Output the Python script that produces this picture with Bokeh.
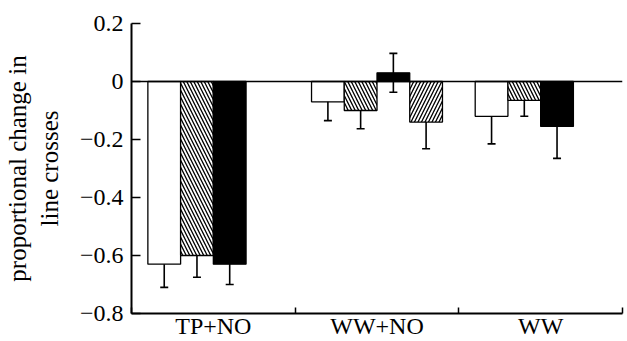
from bokeh.plotting import figure
from bokeh.models import (Range1d, FixedTicker, CustomJSTickFormatter, Whisker,
                          TeeHead, ColumnDataSource, Span)
from bokeh.embed import file_html
from bokeh.resources import INLINE

# ---- data ----
categories = ["TP+NO", "WW+NO", "WW"]

open_cats = ["TP+NO", "WW+NO", "WW"]
open_vals = [-0.63, -0.07, -0.12]
open_err = [0.08, 0.065, 0.095]

hatch_cats = ["TP+NO", "WW+NO", "WW"]
hatch_vals = [-0.60, -0.10, -0.065]
hatch_err = [0.075, 0.063, 0.055]

black_cats = ["TP+NO", "WW+NO", "WW"]
black_vals = [-0.63, 0.03, -0.155]
black_err = [0.07, 0.067, 0.11]

hatch2_cats = ["WW+NO"]
hatch2_vals = [-0.14]
hatch2_err = [0.092]

y_ticks = [-0.8, -0.6, -0.4, -0.2, 0, 0.2]
y_label = "proportional change in\nline crosses"

# ---- styling ----
FONT = "Liberation Serif"
slot_offsets = [-0.3, -0.1, 0.1, 0.3]
bar_w = 0.2

p = figure(width=627, height=341, output_backend="svg", toolbar_location=None,
           x_range=Range1d(0, 3), y_range=Range1d(-0.8, 0.2),
           min_border_left=128, min_border_right=5, min_border_top=23,
           min_border_bottom=27)
p.outline_line_color = None
p.xgrid.visible = False
p.ygrid.visible = False

series = [
    (open_cats, open_vals, open_err, 0, "white", None),
    (hatch_cats, hatch_vals, hatch_err, 1, "white", "\\"),
    (black_cats, black_vals, black_err, 2, "black", None),
    (hatch2_cats, hatch2_vals, hatch2_err, 3, "white", "/"),
]

for cats, vals, errs, slot, fill, hatch in series:
    xs = [categories.index(c) + 0.5 + slot_offsets[slot] for c in cats]
    src = ColumnDataSource(dict(x=xs, top=vals,
                                upper=[v + e for v, e in zip(vals, errs)],
                                lower=[v - e for v, e in zip(vals, errs)]))
    kw = {}
    if hatch:
        kw = dict(hatch_pattern=hatch, hatch_color="black", hatch_scale=7,
                  hatch_weight=1.3)
    p.vbar(x="x", top="top", bottom=0, width=bar_w, source=src,
           fill_color=fill, line_color="black", line_width=1.3, **kw)
    wk = Whisker(base="x", upper="upper", lower="lower", source=src,
                 dimension="height", line_color="black", line_width=1.6,
                 upper_head=TeeHead(size=8, line_width=1.6, line_color="black"),
                 lower_head=TeeHead(size=8, line_width=1.6, line_color="black"))
    p.add_layout(wk)

p.add_layout(Span(location=0, dimension="width", line_color="black",
                  line_width=1.5))

# x axis
xa = p.xaxis[0]
xa.ticker = FixedTicker(ticks=[i + 0.5 for i in range(len(categories))],
                        minor_ticks=list(range(len(categories) + 1)))
xa.formatter = CustomJSTickFormatter(args=dict(cats=categories),
                                     code="return cats[Math.floor(tick)];")
xa.major_tick_line_color = None
xa.minor_tick_in = 6
xa.minor_tick_out = 0
xa.minor_tick_line_width = 1.5
xa.axis_line_width = 2
xa.major_label_text_font = FONT
xa.major_label_text_font_size = "24px"
xa.major_label_standoff = -7
xa.major_label_text_color = "black"

# y axis
ya = p.yaxis[0]
ya.ticker = FixedTicker(ticks=y_ticks, minor_ticks=[])
ya.major_tick_in = 9
ya.major_tick_out = 0
ya.major_tick_line_width = 1.5
ya.axis_line_width = 2
ya.major_label_text_font = FONT
ya.major_label_text_font_size = "24px"
ya.major_label_standoff = 8
ya.major_label_text_color = "black"
ya.axis_label = y_label
ya.axis_label_text_font = FONT
ya.axis_label_text_font_size = "25px"
ya.axis_label_text_font_style = "normal"
ya.axis_label_standoff = 14
ya.axis_label_text_color = "black"

open("out.html", "w").write(file_html(p, INLINE))
